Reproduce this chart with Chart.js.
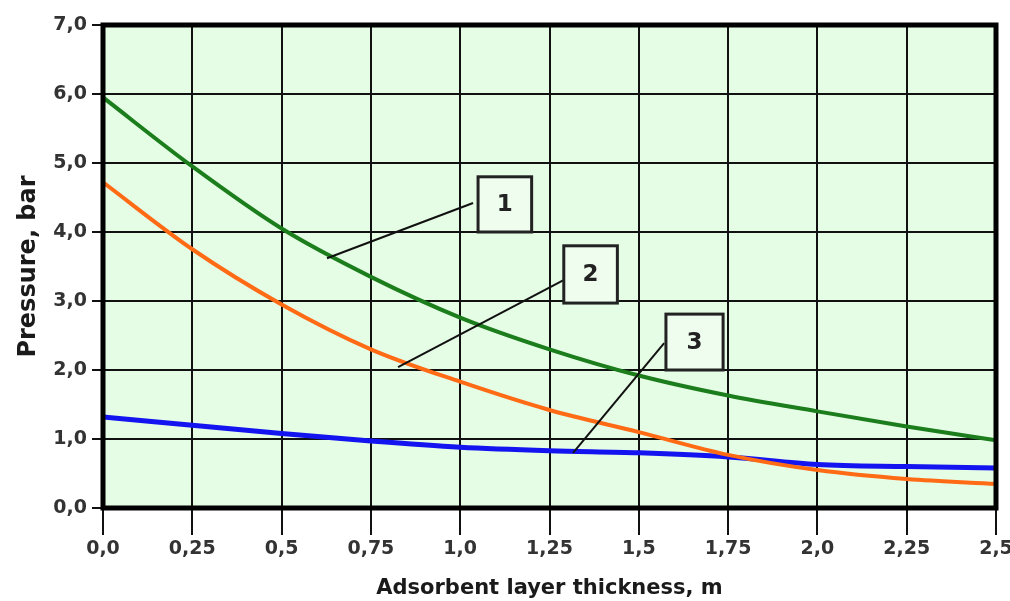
<!DOCTYPE html>
<html>
<head>
<meta charset="utf-8">
<script src="https://cdn.jsdelivr.net/npm/chart.js@4"></script>
<style>
  html, body { margin: 0; padding: 0; background: #fff; }
  #wrap { width: 1010px; height: 601px; }
</style>
</head>
<body>
<div id="wrap"><canvas id="pressureChart" width="1010" height="601"></canvas></div>
<script>
// Datos
const thickness = [0, 0.25, 0.5, 0.75, 1.0, 1.25, 1.5, 1.75, 2.0, 2.25, 2.5];
const curve1 = [5.95, 4.95, 4.05, 3.35, 2.76, 2.3, 1.92, 1.63, 1.4, 1.18, 0.98];
const curve2 = [4.72, 3.75, 2.95, 2.3, 1.83, 1.42, 1.1, 0.77, 0.55, 0.42, 0.35];
const curve3 = [1.32, 1.2, 1.08, 0.97, 0.88, 0.83, 0.8, 0.74, 0.63, 0.6, 0.58];
const xTickLabels = ['0,0', '0,25', '0,5', '0,75', '1,0', '1,25', '1,5', '1,75', '2,0', '2,25', '2,5'];
const yTickLabels = ['0,0', '1,0', '2,0', '3,0', '4,0', '5,0', '6,0', '7,0'];

// Etiquetas numeradas (en unidades de datos)
const callouts = [
  { text: '1', box: [1.05, 4.8, 1.2, 4.0], from: [1.036, 4.42], to: [0.627, 3.62] },
  { text: '2', box: [1.29, 3.8, 1.44, 2.97], from: [1.288, 3.3], to: [0.826, 2.04] },
  { text: '3', box: [1.576, 2.81, 1.736, 2.0], from: [1.571, 2.39], to: [1.316, 0.8] }
];

const FONT = '"DejaVu Sans", Verdana, sans-serif';

const plotBackground = {
  id: 'plotBackground',
  beforeDraw(chart) {
    const { ctx, chartArea: a } = chart;
    ctx.save();
    ctx.fillStyle = '#e5fce5';
    ctx.fillRect(a.left, a.top, a.right - a.left, a.bottom - a.top);
    ctx.restore();
  },
  afterDatasetsDraw(chart) {
    const { ctx, chartArea: a, scales: { x, y } } = chart;
    ctx.save();
    // líneas guía y cuadros
    callouts.forEach(c => {
      ctx.strokeStyle = '#111';
      ctx.lineWidth = 2;
      ctx.beginPath();
      ctx.moveTo(x.getPixelForValue(c.from[0]), y.getPixelForValue(c.from[1]));
      ctx.lineTo(x.getPixelForValue(c.to[0]), y.getPixelForValue(c.to[1]));
      ctx.stroke();
      const l = x.getPixelForValue(c.box[0]), t = y.getPixelForValue(c.box[1]);
      const r = x.getPixelForValue(c.box[2]), b = y.getPixelForValue(c.box[3]);
      ctx.fillStyle = '#eefdee';
      ctx.fillRect(l, t, r - l, b - t);
      ctx.lineWidth = 3;
      ctx.strokeStyle = '#222';
      ctx.strokeRect(l, t, r - l, b - t);
      ctx.fillStyle = '#222';
      ctx.font = 'bold 23px ' + FONT;
      ctx.textAlign = 'center';
      ctx.textBaseline = 'middle';
      ctx.fillText(c.text, (l + r) / 2, (t + b) / 2 + 1);
    });
    // marco grueso
    ctx.strokeStyle = '#000';
    ctx.lineWidth = 5;
    ctx.strokeRect(a.left, a.top, a.right - a.left, a.bottom - a.top);
    ctx.restore();
  }
};

const ctx = document.getElementById('pressureChart').getContext('2d');
const chart = new Chart(ctx, {
  type: 'line',
  data: {
    labels: thickness,
    datasets: [
      { label: '1', data: thickness.map((v, i) => ({ x: v, y: curve1[i] })), borderColor: '#1b7d1b', borderWidth: 4 },
      { label: '2', data: thickness.map((v, i) => ({ x: v, y: curve2[i] })), borderColor: '#ff6a14', borderWidth: 4 },
      { label: '3', data: thickness.map((v, i) => ({ x: v, y: curve3[i] })), borderColor: '#1414f0', borderWidth: 5 }
    ]
  },
  options: {
    responsive: false,
    animation: false,
    layout: { padding: { left: 0, right: 14, top: 25, bottom: 0 } },
    elements: {
      point: { radius: 0 },
      line: { tension: 0.4, cubicInterpolationMode: 'monotone', fill: false }
    },
    plugins: { legend: { display: false }, tooltip: { enabled: false } },
    scales: {
      x: {
        type: 'linear',
        min: 0,
        max: 2.5,
        afterBuildTicks(s) { s.ticks = thickness.map(v => ({ value: v })); },
        afterFit(s) { s.height = 93; s.paddingLeft = 0; s.paddingRight = 0; },
        grid: { color: '#111', lineWidth: 2, tickLength: 27 },
        border: { display: false },
        ticks: {
          padding: 3,
          maxRotation: 0,
          autoSkip: false,
          color: '#333',
          font: { family: FONT, size: 19, weight: 'bold' },
          callback: (v, i) => xTickLabels[i]
        },
        title: {
          display: true,
          text: 'Adsorbent layer thickness, m',
          color: '#1a1a1a',
          padding: { top: 4, bottom: 0 },
          font: { family: FONT, size: 21, weight: 'bold' }
        }
      },
      y: {
        min: 0,
        max: 7,
        afterBuildTicks(s) { s.ticks = yTickLabels.map((t, i) => ({ value: i })); },
        afterFit(s) { s.width = 103; s.paddingTop = 0; s.paddingBottom = 0; },
        grid: { color: '#111', lineWidth: 2, tickLength: 11 },
        border: { display: false },
        ticks: {
          padding: 5,
          color: '#333',
          font: { family: FONT, size: 19, weight: 'bold' },
          callback: (v, i) => yTickLabels[i]
        },
        title: {
          display: true,
          text: 'Pressure, bar',
          color: '#1a1a1a',
          padding: { top: 14, bottom: 0 },
          font: { family: FONT, size: 24, weight: 'bold' }
        }
      }
    }
  },
  plugins: [plotBackground]
});
</script>
</body>
</html>
